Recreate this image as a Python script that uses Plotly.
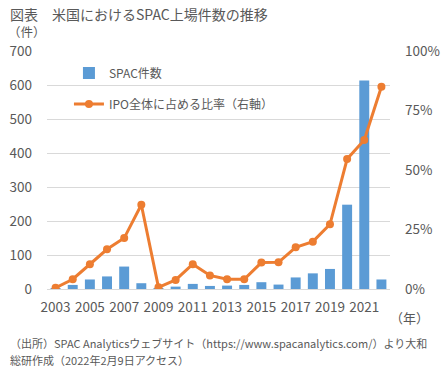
import plotly.graph_objects as go

years = [str(y) for y in range(2003, 2023)]
spac_counts = [1, 12, 28, 37, 66, 17, 1, 7, 15, 9, 10, 12, 20, 13, 34, 46, 59, 248, 613, 28]
ipo_share_pct = [0.5, 4.1, 10.4, 16.7, 21.4, 35.4, 0.7, 3.8, 10.4, 5.7, 4.1, 4.1, 11.1, 11.2, 17.5, 19.9, 27.2, 54.6, 62.6, 85.0]
x_tick_labels = [str(y) for y in range(2003, 2022, 2)]
left_ticks = [0, 100, 200, 300, 400, 500, 600, 700]
right_ticks = [0, 25, 50, 75, 100]
right_tick_text = ["0%", "25%", "50%", "75%", "100%"]

FONT = "Noto Sans CJK JP"
GRAY = "#595959"
L, R, T, B = 47, 56, 51, 81
W, H = 446, 370

fig = go.Figure()
fig.add_trace(go.Bar(
    x=years, y=spac_counts, name="SPAC件数",
    marker=dict(color="#5B9BD5", line=dict(width=0)),
    legendgroup="a",
))
fig.add_trace(go.Scatter(
    x=years, y=ipo_share_pct, name="IPO全体に占める比率（右軸）",
    yaxis="y2", mode="lines+markers",
    line=dict(color="#ED7D31", width=3),
    marker=dict(color="#ED7D31", size=8),
    legendgroup="b",
))

fig.update_layout(
    width=W, height=H,
    margin=dict(l=L, r=R, t=T, b=B, autoexpand=False),
    paper_bgcolor="white", plot_bgcolor="white",
    font=dict(family=FONT, color=GRAY, size=13),
    bargap=0.42,
    showlegend=True,
    legend=dict(
        x=0.064, y=0.968, xanchor="left", yanchor="top",
        bgcolor="rgba(0,0,0,0)", font=dict(size=12, color=GRAY),
        traceorder="grouped", tracegroupgap=12,
    ),
    xaxis=dict(
        type="category", range=[-0.5, len(years) - 0.5],
        tickmode="array", tickvals=x_tick_labels, ticktext=x_tick_labels,
        showgrid=False, showline=True, linecolor="#D9D9D9", linewidth=1,
        ticks="", tickangle=0, automargin=False, ticklabelstandoff=6,
        tickfont=dict(size=13.5, color=GRAY),
    ),
    yaxis=dict(
        range=[0, 700], tickmode="array", tickvals=left_ticks,
        showgrid=True, gridcolor="#D9D9D9", gridwidth=1,
        zeroline=False, ticks="", ticklabelstandoff=14, automargin=False,
        tickfont=dict(size=13.5, color=GRAY),
    ),
    yaxis2=dict(
        range=[0, 100], overlaying="y", side="right",
        tickmode="array", tickvals=right_ticks, ticktext=right_tick_text,
        showgrid=False, zeroline=False, ticks="", ticklabelstandoff=14, automargin=False,
        tickfont=dict(size=13.5, color=GRAY),
    ),
)

def pix(xp, yp):
    return (xp - L) / (W - L - R), 1 - (yp - T) / (H - T - B)

anns = [
    ("図表　米国におけるSPAC上場件数の推移", 8, 14, 14),
    ("（件）", 6, 31, 12.5),
    ("（年）", 388, 317, 13),
    ("（出所）SPAC Analyticsウェブサイト（https://www.spacanalytics.com/）より大和", 8, 343, 11),
    ("総研作成（2022年2月9日アクセス）", 8, 360, 11),
]
for text, xp, yp, size in anns:
    ax, ay = pix(xp, yp)
    fig.add_annotation(text=text, x=ax, y=ay, xref="paper", yref="paper",
                       xanchor="left", yanchor="middle", showarrow=False,
                       font=dict(size=size, color=GRAY, family=FONT))

fig.write_html(
    "out.html",
    config={"displayModeBar": False},
    post_script="document.body.style.margin='0';document.body.style.overflow='hidden';",
)
